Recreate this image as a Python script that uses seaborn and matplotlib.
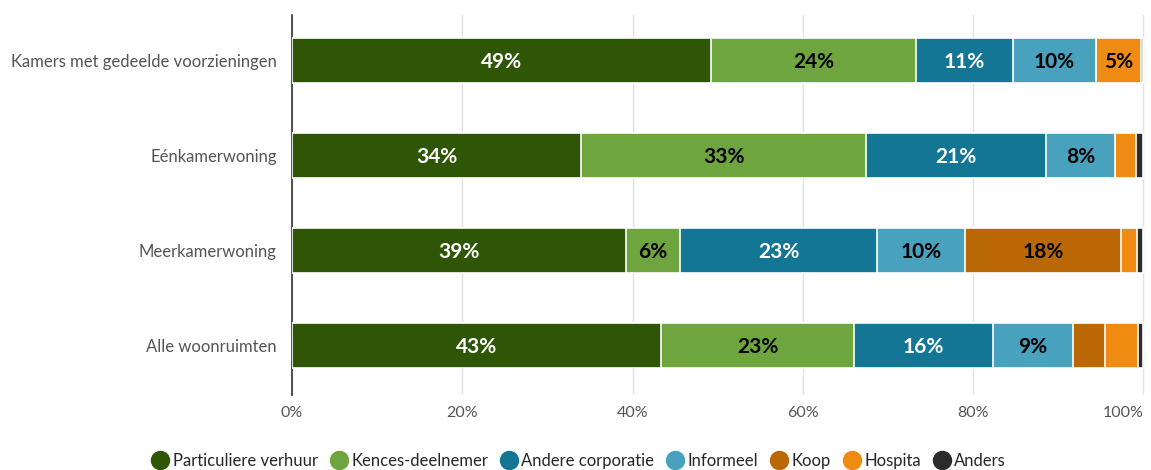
import numpy as np
import pandas as pd
import matplotlib
matplotlib.use("Agg")
import matplotlib.pyplot as plt
from matplotlib.lines import Line2D
import seaborn as sns

categories = ["Kamers met gedeelde voorzieningen", "Eénkamerwoning", "Meerkamerwoning", "Alle woonruimten"]
series = ["Particuliere verhuur", "Kences-deelnemer", "Andere corporatie", "Informeel", "Koop", "Hospita", "Anders"]
particuliere = [49.2, 34.0, 39.2, 43.4]
kences = [24.1, 33.4, 6.4, 22.6]
andere_corp = [11.4, 21.2, 23.1, 16.3]
informeel = [9.7, 8.1, 10.4, 9.4]
koop = [0.0, 0.0, 18.3, 3.8]
hospita = [5.3, 2.5, 1.9, 3.9]
anders = [0.3, 0.8, 0.7, 0.6]
xticks = [0, 20, 40, 60, 80, 100]
xticklabels = ["0%", "20%", "40%", "60%", "80%", "100%"]

colors = ["#2e5606", "#6fa53f", "#137694", "#48a2be", "#b96805", "#ef8a13", "#2b2b2b"]
label_colors = ["white", "black", "white", "black", "black", "black", "white"]

sns.set_theme(style="white")
plt.rcParams["font.family"] = ["Lato", "DejaVu Sans"]

values = np.array([particuliere, kences, andere_corp, informeel, koop, hospita, anders])
cum = np.cumsum(values, axis=0)

fig = plt.figure(figsize=(11.51, 4.70), dpi=100)
ax = fig.add_axes([292 / 1151, 1 - 395 / 470, (1145 - 292) / 1151, 380 / 470])

for i in range(len(series) - 1, -1, -1):
    df = pd.DataFrame({"cat": categories, "val": cum[i]})
    sns.barplot(data=df, y="cat", x="val", orient="h", color=colors[i], ax=ax,
                width=0.48, saturation=1, edgecolor="white", linewidth=1.2, zorder=3)

for i in range(len(series)):
    for j in range(len(categories)):
        v = values[i, j]
        if v >= 4.5:
            ax.text(cum[i, j] - v / 2, j + 0.01, f"{int(round(v))}%", ha="center", va="center",
                    color=label_colors[i], fontsize=15, fontweight="bold", zorder=5)

ax.set_xlim(0, 100.2)
ax.set_ylim(3.52, -0.48)
ax.set_xticks(xticks)
ax.set_xticklabels(xticklabels)
ax.set_xlabel("")
ax.set_ylabel("")
ax.grid(axis="x", color="#e3e3e3", linewidth=1, zorder=0)
for s in ["top", "right", "bottom"]:
    ax.spines[s].set_visible(False)
ax.spines["left"].set_color("#333333")
ax.spines["left"].set_linewidth(1.2)
ax.tick_params(axis="y", length=0, pad=11, labelsize=12, labelcolor="#555555")
ax.tick_params(axis="x", length=0, pad=8, labelsize=11.5, labelcolor="#555555")
for lbl in ax.get_xticklabels()[-1:]:
    lbl.set_horizontalalignment("right")

handles = [Line2D([0], [0], marker="o", linestyle="", markersize=13, markerfacecolor=c,
                  markeredgecolor=c) for c in colors]
fig.legend(handles, series, loc="center", bbox_to_anchor=(579 / 1151, 1 - 461 / 470), ncol=7,
           frameon=False, handletextpad=0.25, columnspacing=0.75, fontsize=12, handlelength=1.0)

fig.savefig("out.png", dpi=100)
